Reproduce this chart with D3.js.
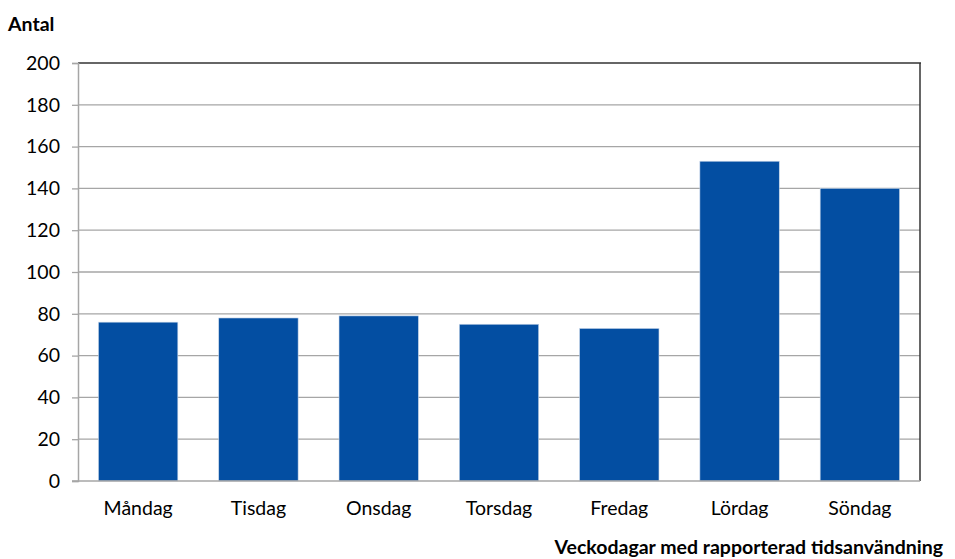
<!DOCTYPE html>
<html><head><meta charset="utf-8">
<script src="https://cdn.jsdelivr.net/npm/d3@7"></script>
<style>body{margin:0;background:#fff}svg{display:block}</style>
</head><body>
<svg id="c" width="955" height="559"></svg>
<script>
const categories = ["Måndag","Tisdag","Onsdag","Torsdag","Fredag","Lördag","Söndag"];
const values = [76, 78, 79, 75, 73, 153, 140];
const yTicks = [0,20,40,60,80,100,120,140,160,180,200];
const yLabel = "Antal";
const xLabel = "Veckodagar med rapporterad tidsanvändning";

const svg = d3.select("#c");
const font = "Lato, 'Open Sans', sans-serif";
const fs = 19.5;
const L = 78, R = 920, T = 63, B = 481;
const x = d3.scaleBand().domain(categories).range([L, R]).paddingInner(0.34).paddingOuter(0.17);
const y = d3.scaleLinear().domain([0, 200]).range([B, T]);

// gridlines
svg.append("g").selectAll("line").data(yTicks.filter(d => d > 0 && d < 200)).join("line")
  .attr("x1", L).attr("x2", R).attr("y1", d => y(d)).attr("y2", d => y(d))
  .attr("stroke", "#a6a6a6").attr("stroke-width", 1.3);

// bars
svg.append("g").selectAll("rect").data(values).join("rect")
  .attr("x", (d, i) => x(categories[i])).attr("width", x.bandwidth())
  .attr("y", d => y(d)).attr("height", d => B - y(d))
  .attr("fill", "#034ea2").attr("stroke", "#c9d7ea").attr("stroke-width", 0.6);

// frame: top and right dark
svg.append("line").attr("x1", L).attr("x2", R + 1).attr("y1", T).attr("y2", T).attr("stroke", "#333").attr("stroke-width", 1.5);
svg.append("line").attr("x1", R).attr("x2", R).attr("y1", T).attr("y2", B).attr("stroke", "#333").attr("stroke-width", 1.5);

// y axis
const yAxis = svg.append("g").attr("transform", `translate(${L},0)`)
  .call(d3.axisLeft(y).tickValues(yTicks).tickSize(6).tickPadding(12).tickFormat(d3.format("d")));
yAxis.select(".domain").attr("stroke", "#a6a6a6").attr("stroke-width", 1.5);
yAxis.selectAll(".tick line").attr("stroke", "#a6a6a6").attr("stroke-width", 1.3);
yAxis.selectAll("text").attr("font-family", font).attr("font-size", fs).attr("fill", "#000");

// x axis
const xAxis = svg.append("g").attr("transform", `translate(0,${B})`)
  .call(d3.axisBottom(x).tickSize(0).tickPadding(20));
xAxis.select(".domain").remove();
svg.append("line").attr("x1", L - 6).attr("x2", R).attr("y1", B).attr("y2", B).attr("stroke", "#a6a6a6").attr("stroke-width", 1.5);
xAxis.selectAll("text").attr("font-family", font).attr("font-size", fs).attr("fill", "#000");

svg.append("text").attr("x", 8).attr("y", 31).text(yLabel)
  .attr("font-family", font).attr("font-weight", "bold").attr("font-size", fs);
svg.append("text").attr("x", 943).attr("y", 554).attr("text-anchor", "end").text(xLabel)
  .attr("font-family", font).attr("font-weight", "bold").attr("font-size", fs);
</script>
</body></html>
